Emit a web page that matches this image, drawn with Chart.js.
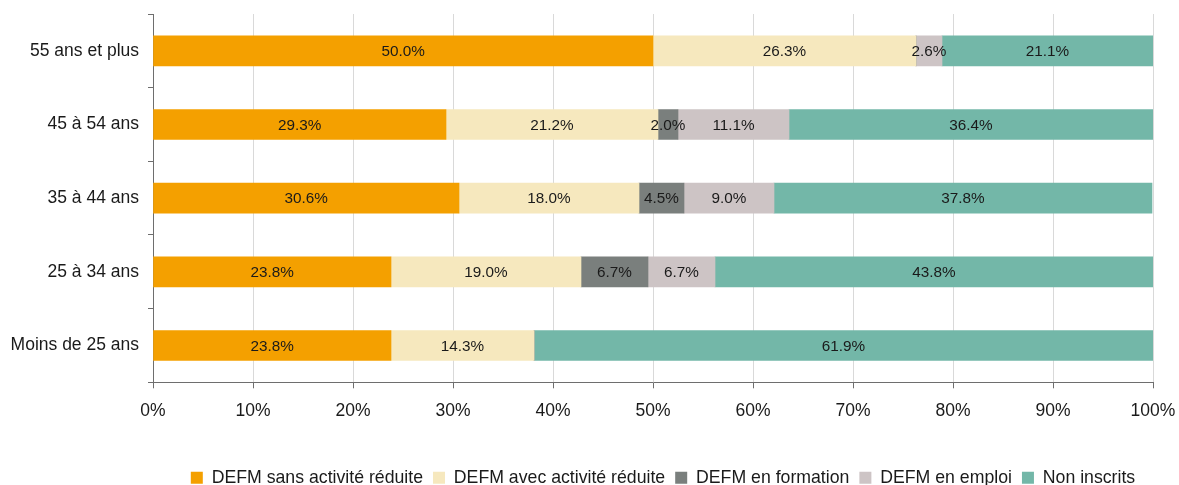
<!DOCTYPE html>
<html>
<head>
<meta charset="utf-8">
<script src="https://cdn.jsdelivr.net/npm/chart.js@4/dist/chart.umd.min.js"></script>
<style>
  html, body { margin: 0; padding: 0; background: #fff; }
  #wrap { width: 1179px; height: 485px; }
</style>
</head>
<body>
<div id="wrap"><canvas id="ageChart"></canvas></div>
<script>
const categories = ['55 ans et plus', '45 à 54 ans', '35 à 44 ans', '25 à 34 ans', 'Moins de 25 ans'];
const sansActivite = [50.0, 29.3, 30.6, 23.8, 23.8];
const avecActivite = [26.3, 21.2, 18.0, 19.0, 14.3];
const enFormation = [0, 2.0, 4.5, 6.7, 0];
const enEmploi = [2.6, 11.1, 9.0, 6.7, 0];
const nonInscrits = [21.1, 36.4, 37.8, 43.8, 61.9];
const xTicks = [0, 10, 20, 30, 40, 50, 60, 70, 80, 90, 100];

const FONT = "'Liberation Sans', Arial, sans-serif";
const AXIS = '#6e6e6e';

// labels in the middle of each segment
const segmentLabels = {
  id: 'segmentLabels',
  afterDatasetsDraw(chart) {
    const ctx = chart.ctx;
    ctx.save();
    ctx.font = `15.3px ${FONT}`;
    ctx.fillStyle = '#1a1a1a';
    ctx.textAlign = 'center';
    ctx.textBaseline = 'middle';
    chart.data.datasets.forEach((ds, i) => {
      const meta = chart.getDatasetMeta(i);
      meta.data.forEach((bar, j) => {
        const v = ds.data[j];
        if (!v) return;
        ctx.fillText(v.toFixed(1) + '%', (bar.x + bar.base) / 2, bar.y + 1);
      });
    });
    ctx.restore();
  }
};

// legend sits lower and a bit right of the canvas centre in the original
const legendShift = {
  id: 'legendShift',
  afterLayout(chart) {
    const lg = chart.legend;
    const dx = 663 - (lg.left + lg.right) / 2;
    lg.left += dx;
    lg.right += dx;
    lg.top = 459;
    lg.bottom = 485;
  }
};

const noPad = scale => {
  scale.paddingTop = 0;
  scale.paddingBottom = 0;
  scale.paddingLeft = 0;
  scale.paddingRight = 0;
};

new Chart(document.getElementById('ageChart'), {
  type: 'bar',
  data: {
    labels: categories,
    datasets: [
      { label: 'DEFM sans activité réduite', data: sansActivite, backgroundColor: '#F4A000' },
      { label: 'DEFM avec activité réduite', data: avecActivite, backgroundColor: '#F6E8BE' },
      { label: 'DEFM en formation', data: enFormation, backgroundColor: '#7A7F7D' },
      { label: 'DEFM en emploi', data: enEmploi, backgroundColor: '#CDC4C5' },
      { label: 'Non inscrits', data: nonInscrits, backgroundColor: '#73B7A8' }
    ]
  },
  options: {
    indexAxis: 'y',
    responsive: true,
    maintainAspectRatio: false,
    animation: false,
    layout: { padding: { top: 14, right: 26, left: 0, bottom: 0 } },
    datasets: { bar: { barThickness: 30, borderWidth: 0 } },
    scales: {
      x: {
        stacked: true,
        min: 0,
        max: 100,
        afterBuildTicks: scale => { scale.ticks = xTicks.map(v => ({ value: v })); },
        grid: { color: '#d9d9d9', tickColor: AXIS, tickLength: 6, lineWidth: 1 },
        border: { color: AXIS },
        ticks: {
          padding: 12,
          color: '#1a1a1a',
          font: { family: FONT, size: 17.5 },
          callback: v => v + '%',
          maxRotation: 0
        },
        afterFit: scale => { noPad(scale); scale.height = 65; }
      },
      y: {
        stacked: true,
        grid: { drawOnChartArea: false, tickColor: AXIS, tickLength: 5, offset: true },
        border: { color: AXIS },
        ticks: {
          padding: 9,
          color: '#1a1a1a',
          font: { family: FONT, size: 17.5 }
        },
        afterFit: scale => { noPad(scale); scale.width = 153; }
      }
    },
    plugins: {
      tooltip: { enabled: false },
      legend: {
        position: 'bottom',
        labels: {
          boxWidth: 12,
          boxHeight: 12,
          padding: 10,
          color: '#1a1a1a',
          font: { family: FONT, size: 17.7 }
        }
      }
    }
  },
  plugins: [segmentLabels, legendShift]
});
</script>
</body>
</html>
